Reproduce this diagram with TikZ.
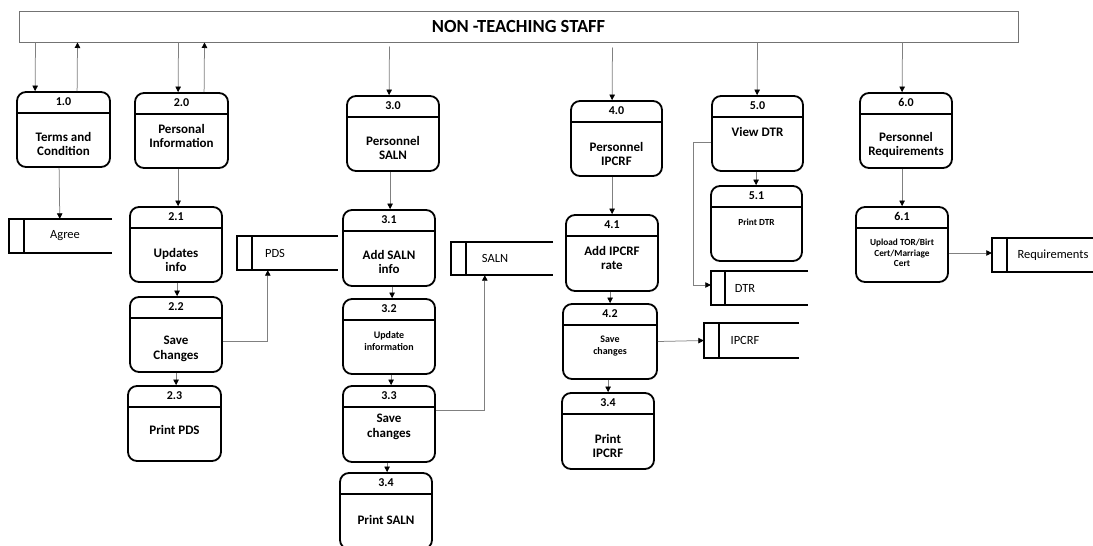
\documentclass[tikz,border=0pt]{standalone}
\usepackage{fontspec}
\setmainfont{Carlito}
\usetikzlibrary{arrows.meta}

\tikzset{
  staffbox/.style={draw=black!55, line width=1pt, inner sep=0pt,
    font=\bfseries\fontsize{18.5}{21}\selectfont},
  procshape/.style={draw=black, line width=1.8pt, rounded corners=9pt, inner sep=0pt},
  hdrline/.style={draw=black, line width=1.8pt},
  numtext/.style={font=\bfseries\fontsize{12}{13}\selectfont, inner sep=0pt},
  bodytext/.style={font=\bfseries\fontsize{13}{14.5}\selectfont, align=center, inner sep=0pt},
  smalltext/.style={font=\bfseries\fontsize{10}{12}\selectfont, align=center, inner sep=0pt},
  tinytext/.style={font=\bfseries\fontsize{9.3}{10.5}\selectfont, align=center, inner sep=0pt},
  storeline/.style={draw=black, line width=1.7pt},
  storebar/.style={draw=black, line width=2.4pt},
  storetext/.style={font=\fontsize{12.5}{14}\selectfont, inner sep=0pt},
  flow/.style={draw=black!50, line width=0.75pt,
    -{Triangle[length=5.5pt,width=5.5pt,color=black]}},
}

% process box: [text style]{name}{left}{top}{right}{bottom}{number}{text y}{text}
\newcommand\procbox[9][bodytext]{%
  \node[procshape, minimum width={#5-#3}, minimum height={#6-#4}] (#2)
    at ({(#3+#5)/2},{(#4+#6)/2}) {};
  \draw[hdrline] ([yshift=-21.5pt]#2.north west) -- ([yshift=-21.5pt]#2.north east);
  \node[numtext] (#2-num) at ([yshift=-10.75pt]#2.north) {#7};
  \node[#1] (#2-txt) at ({(#3+#5)/2},#8) {#9};
}

% data store: {name}{left}{top}{bottom}{right}{bar x}{label x}{label}
\newcommand\datastore[8]{%
  \node[inner sep=0pt, minimum width={#5-#2}, minimum height={#4-#3}] (#1)
    at ({(#2+#5)/2},{(#3+#4)/2}) {};
  \draw[storeline] (#1.north east) -- (#1.north west) -- (#1.south west) -- (#1.south east);
  \draw[storebar] ([xshift={(#6-#2)*1pt}]#1.north west) -- ([xshift={(#6-#2)*1pt}]#1.south west);
  \node[storetext] (#1-txt) at (#7,{(#3+#4)/2}) {#8};
}

\begin{document}
\begin{tikzpicture}[x=1pt,y=-1pt]
\useasboundingbox (0,0) rectangle (1093,546);
\clip (0,0) rectangle (1093,546);
\fill[white] (0,0) rectangle (1093,546);

% external entity
\node[staffbox, minimum width=999, minimum height=31] (staff) at (518.5,26.5) {NON -TEACHING STAFF};

% processes
\procbox{p10}{17}{92}{110}{167}{1.0}{144}{Terms and\\Condition}
\procbox{p20}{135}{93}{228}{168}{2.0}{136}{Personal\\Information}
\procbox{p21}{130}{207}{222}{282}{2.1}{260}{Updates\\info}
\procbox{p22}{130}{297}{222}{372}{2.2}{349}{Save\\Changes}
\procbox{p23}{128}{386}{221}{461}{2.3}{430}{Print PDS}
\procbox{p30}{347}{96}{439}{171}{3.0}{148}{Personnel\\SALN}
\procbox{p31}{343}{210}{435}{286}{3.1}{262}{Add SALN\\info}
\procbox[smalltext]{p32}{343}{299}{435}{374}{3.2}{341}{Update\\information}
\procbox{p33}{343}{386}{435}{462}{3.3}{427}{Save\\changes}
\procbox{p34}{340}{473}{432}{549}{3.4}{520}{Print SALN}
\procbox{p40}{571}{101}{662}{176}{4.0}{154}{Personnel\\IPCRF}
\procbox{p41}{566}{215}{658}{291}{4.1}{258}{Add IPCRF\\rate}
\procbox[smalltext]{p42}{563}{304}{657}{379}{4.2}{346}{Save\\changes}
\procbox{p34i}{562}{393}{654}{469}{3.4}{446}{Print\\IPCRF}
\procbox{p50}{712}{96}{803}{171}{5.0}{132}{View DTR}
\procbox[tinytext]{p51}{711}{186}{802}{261}{5.1}{222}{Print DTR}
\procbox{p60}{860}{93}{952}{168}{6.0}{145}{Personnel\\Requirements}
\procbox[tinytext]{p61}{856}{207}{948}{282}{6.1}{253}{Upload TOR/Birt\\Cert/Marriage\\Cert}

% data stores
\datastore{agree}{9}{219}{253}{112}{24}{65}{Agree}
\datastore{pds}{237}{236}{270}{338}{252}{275}{PDS}
\datastore{saln}{451}{242}{275}{553}{466}{495}{SALN}
\datastore{dtr}{711}{271}{305}{808}{725}{745}{DTR}
\datastore{ipcrf}{704}{323}{358}{799}{719}{745}{IPCRF}
\datastore{req}{992}{238}{272}{1100}{1007}{1053}{Requirements}

% flows between the staff and the top-level processes
\draw[flow] ([xshift=17pt]staff.south west) -- ([xshift=19pt]p10.north west);
\draw[flow] ([xshift=61pt]p10.north west) -- ([xshift=59pt]staff.south west);
\draw[flow] ([xshift=160pt]staff.south west) -- ([xshift=44pt]p20.north west);
\draw[flow] ([xshift=70pt]p20.north west) -- ([xshift=186pt]staff.south west);
\draw[flow, shorten <=4pt] ([xshift=371pt]staff.south west) -- ([xshift=43pt]p30.north west);
\draw[flow, shorten <=5pt] ([xshift=594pt]staff.south west) -- ([xshift=42pt]p40.north west);
\draw[flow] ([xshift=739pt]staff.south west) -- ([xshift=46pt]p50.north west);
\draw[flow] ([xshift=884pt]staff.south west) -- ([xshift=43pt]p60.north west);

% branch 1
\draw[flow] ([xshift=43pt]p10.south west) -- ([xshift=51pt]agree.north west);

% branch 2
\draw[flow] ([xshift=44pt]p20.south west) -- ([xshift=49pt]p21.north west);
\draw[flow] ([xshift=48pt]p21.south west) -- ([xshift=48pt]p22.north west);
\draw[flow] ([xshift=47pt]p22.south west) -- ([xshift=49pt]p23.north west);
\draw[flow] ([yshift=-6.5pt]p22.east) -| ([xshift=31pt]pds.south west);

% branch 3
\draw[flow] ([xshift=44pt]p30.south west) -- ([xshift=48pt]p31.north west);
\draw[flow] ([xshift=50pt]p31.south west) -- ([xshift=50pt]p32.north west);
\draw[flow] ([xshift=49pt]p32.south west) -- ([xshift=49pt]p33.north west);
\draw[flow] ([xshift=45pt]p33.south west) -- ([xshift=48pt]p34.north west);
\draw[flow] ([yshift=14pt]p33.east) -| ([xshift=34pt]saln.south west);

% branch 4
\draw[flow] ([xshift=42pt]p40.south west) -- ([xshift=47pt]p41.north west);
\draw[flow] ([xshift=45pt]p41.south west) -- ([xshift=48pt]p42.north west);
\draw[flow] ([xshift=46pt]p42.south west) -- ([xshift=47pt]p34i.north west);
\draw[flow] (p42.east) -- (ipcrf.west);

% branch 5
\draw[flow] ([xshift=45pt]p50.south west) -- ([xshift=46pt]p51.north west);
\draw[flow] ([yshift=-8.5pt]p50.west) -- ++(-18,0) |- ([yshift=3pt]dtr.west);

% branch 6
\draw[flow] ([xshift=43pt]p60.south west) -- ([xshift=47pt]p61.north west);
\draw[flow] ([yshift=-8.5pt]p61.east) -- ([yshift=2pt]req.west);
\end{tikzpicture}
\end{document}
